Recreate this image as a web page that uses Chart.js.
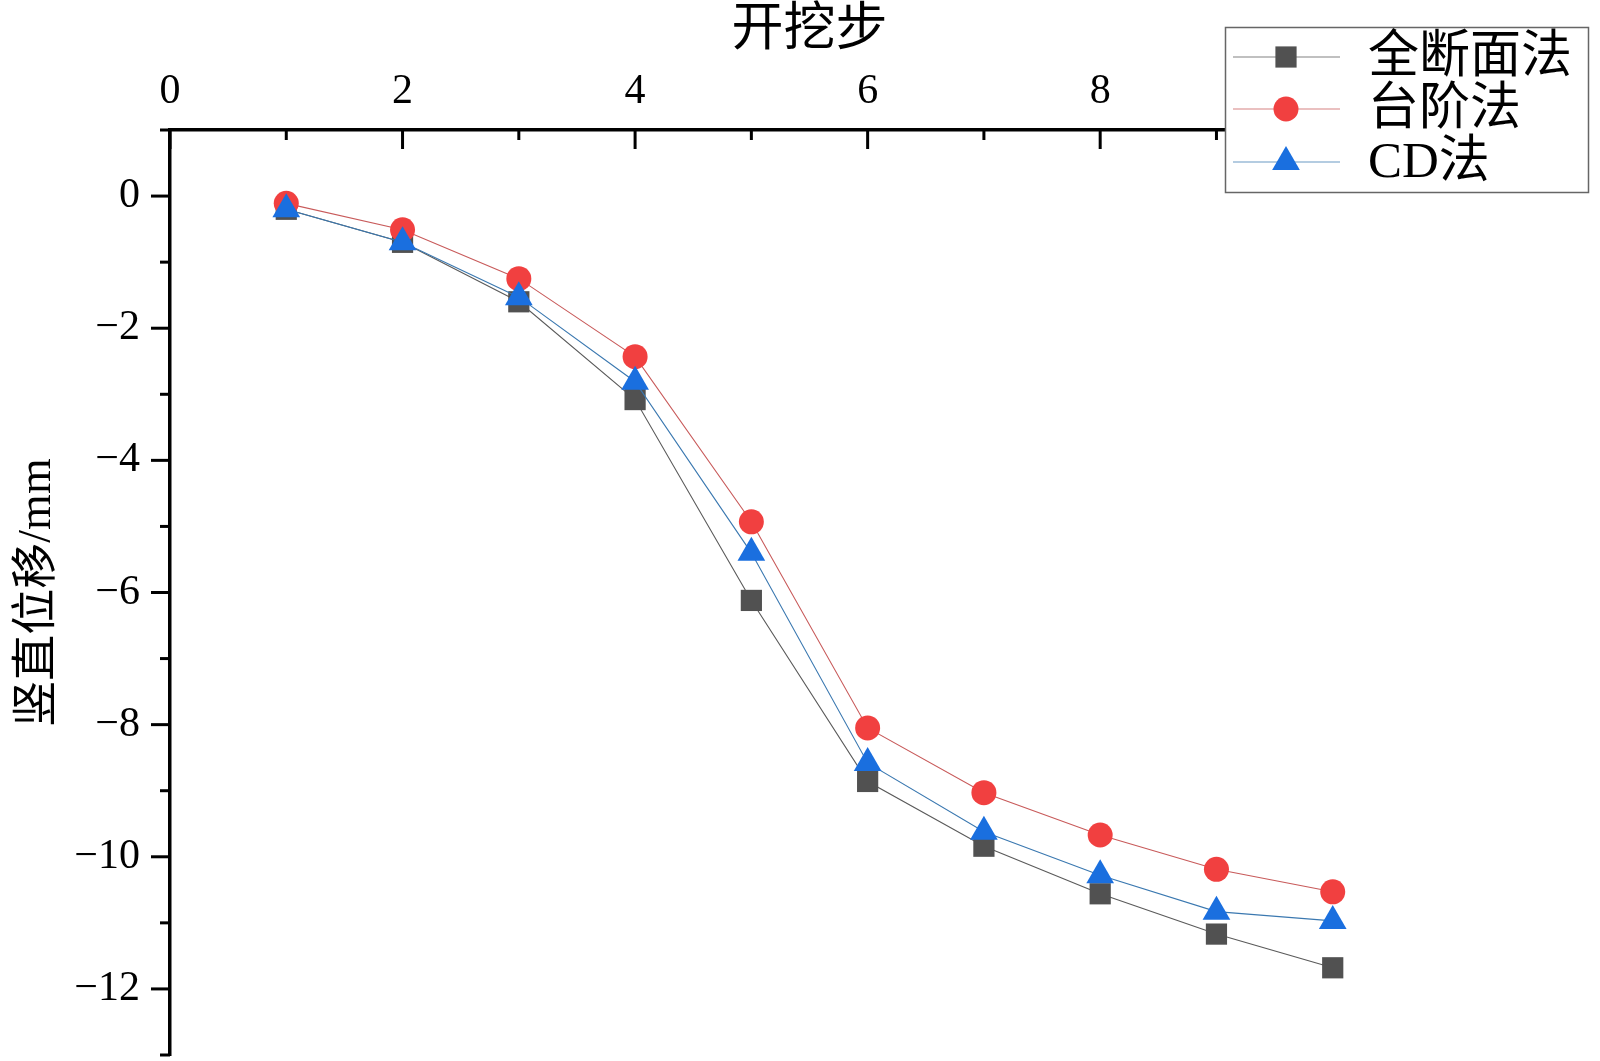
<!DOCTYPE html>
<html><head><meta charset="utf-8">
<script src="https://cdn.jsdelivr.net/npm/chart.js"></script>
<style>html,body{margin:0;padding:0;background:#fff}#wrap{width:1600px;height:1061px;position:relative}</style>
</head><body><div id="wrap"><canvas id="c" width="1600" height="1061"></canvas></div>
<script>
const steps = [1, 2, 3, 4, 5, 6, 7, 8, 9, 10];
const fullSection = [-0.2, -0.7, -1.6, -3.08, -6.12, -8.86, -9.84, -10.56, -11.17, -11.68];
const benchMethod = [-0.11, -0.51, -1.25, -2.43, -4.93, -8.05, -9.03, -9.67, -10.19, -10.53];
const cdMethod = [-0.2, -0.7, -1.53, -2.81, -5.4, -8.58, -9.62, -10.28, -10.83, -10.97];
const seriesNames = ['全断面法', '台阶法', 'CD法'];
const xTickValues = [0, 2, 4, 6, 8, 10];
const xMinorValues = [1, 3, 5, 7, 9, 11];
const yTickValues = [0, -2, -4, -6, -8, -10, -12];
const yMinorValues = [1, -1, -3, -5, -7, -9, -11, -13];
const xTitle = '开挖步';
const yTitle = '竖直位移/mm';

const markerColors = ['#515151', '#f14040', '#1a6fdf'];
const lineColors = ['#5a5a5a', '#c85a5a', '#3a78b0'];
const styles = ['rect', 'circle', 'triangle'];
const radii = [15, 12.5, 16];
const serif = '"Liberation Serif", "Noto Sans CJK SC", serif';

function pts(vals) { return steps.map((s, i) => ({x: s, y: vals[i]})); }
const allVals = [fullSection, benchMethod, cdMethod];

const datasets = allVals.map((v, i) => ({
  label: seriesNames[i],
  data: pts(v),
  borderColor: lineColors[i],
  borderWidth: 1.1,
  backgroundColor: markerColors[i],
  pointBackgroundColor: markerColors[i],
  pointBorderColor: markerColors[i],
  pointBorderWidth: 0,
  pointStyle: styles[i],
  pointRadius: radii[i],
  pointHoverRadius: radii[i],
  tension: 0,
  fill: false,
  clip: false,
  order: 3 - i
}));

function drawMarker(ctx, style, x, y, r, color) {
  ctx.save();
  ctx.fillStyle = color;
  ctx.beginPath();
  if (style === 'rect') {
    const s = r * Math.SQRT1_2;
    ctx.rect(x - s, y - s, 2 * s, 2 * s);
  } else if (style === 'circle') {
    ctx.arc(x, y, r, 0, Math.PI * 2);
  } else {
    ctx.moveTo(x, y - r);
    ctx.lineTo(x + r * Math.sin(2 * Math.PI / 3), y - r * Math.cos(2 * Math.PI / 3));
    ctx.lineTo(x + r * Math.sin(4 * Math.PI / 3), y - r * Math.cos(4 * Math.PI / 3));
    ctx.closePath();
  }
  ctx.fill();
  ctx.restore();
}

const ticksPlugin = {
  id: 'customTicks',
  afterDatasetsDraw(chart) {
    const ctx = chart.ctx;
    const xs = chart.scales.x, ys = chart.scales.y;
    const top = chart.chartArea.top, left = chart.chartArea.left;
    ctx.save();
    ctx.strokeStyle = '#000';
    ctx.lineWidth = 3;
    xTickValues.forEach(v => {
      const px = xs.getPixelForValue(v);
      ctx.beginPath(); ctx.moveTo(px, top); ctx.lineTo(px, top + 19); ctx.stroke();
    });
    xMinorValues.forEach(v => {
      const px = xs.getPixelForValue(v);
      ctx.beginPath(); ctx.moveTo(px, top); ctx.lineTo(px, top + 10); ctx.stroke();
    });
    yTickValues.forEach(v => {
      const py = ys.getPixelForValue(v);
      ctx.beginPath(); ctx.moveTo(left, py); ctx.lineTo(left - 19, py); ctx.stroke();
    });
    yMinorValues.forEach(v => {
      const py = ys.getPixelForValue(v);
      ctx.beginPath(); ctx.moveTo(left, py); ctx.lineTo(left - 10, py); ctx.stroke();
    });
    ctx.restore();
  },
  afterDraw(chart) {
    const ctx = chart.ctx;
    ctx.save();
    const bx = 1225, by = 27, bw = 363, bh = 165;
    ctx.fillStyle = '#fff';
    ctx.fillRect(bx, by, bw, bh);
    ctx.strokeStyle = '#666';
    ctx.lineWidth = 1.5;
    ctx.strokeRect(bx + 0.5, by + 0.5, bw, bh);
    const rows = [57, 109, 162];
    rows.forEach((ry, i) => {
      ctx.strokeStyle = lineColors[i];
      ctx.globalAlpha = 0.75;
      ctx.lineWidth = 1.1;
      ctx.beginPath(); ctx.moveTo(1233, ry); ctx.lineTo(1340, ry); ctx.stroke();
      ctx.globalAlpha = 1;
      drawMarker(ctx, styles[i], 1286, ry, radii[i], markerColors[i]);
      ctx.fillStyle = '#000';
      ctx.font = '51px ' + serif;
      ctx.textBaseline = 'middle';
      ctx.textAlign = 'left';
      ctx.fillText(seriesNames[i], 1368, ry + 2);
    });
    ctx.restore();
  }
};

const fmt = v => (v < 0 ? '\u2212' + Math.abs(v) : String(v));

new Chart(document.getElementById('c'), {
  type: 'line',
  data: { datasets },
  options: {
    responsive: false,
    animation: false,
    events: [],
    layout: { autoPadding: false, padding: { left: 0, right: 151, top: 0, bottom: 6 } },
    plugins: { legend: { display: false }, tooltip: { enabled: false } },
    scales: {
      x: {
        type: 'linear',
        position: 'top',
        min: 0, max: 11,
        afterBuildTicks: s => { s.ticks = xTickValues.map(v => ({value: v})); },
        afterFit: s => { s.height = 130; s.paddingLeft = 0; s.paddingRight = 0; },
        grid: { display: false, drawTicks: false },
        border: { display: true, color: '#000', width: 3.5 },
        ticks: { color: '#000', font: { family: serif, size: 42 }, padding: 13, maxRotation: 0, callback: fmt },
        title: { display: true, text: xTitle, color: '#000', font: { family: serif, size: 52 }, padding: { top: 0, bottom: 0 } }
      },
      y: {
        type: 'linear',
        position: 'left',
        min: -13, max: 1,
        afterBuildTicks: s => { s.ticks = yTickValues.map(v => ({value: v})); },
        afterFit: s => { s.width = 170; s.paddingTop = 0; s.paddingBottom = 0; },
        grid: { display: false, drawTicks: false },
        border: { display: true, color: '#000', width: 3.5 },
        ticks: { color: '#000', font: { family: serif, size: 42 }, padding: 30, callback: fmt },
        title: { display: true, text: yTitle, color: '#000', font: { family: serif, size: 46 }, padding: { top: 10, bottom: 6 } }
      }
    }
  },
  plugins: [ticksPlugin]
});
</script></body></html>
